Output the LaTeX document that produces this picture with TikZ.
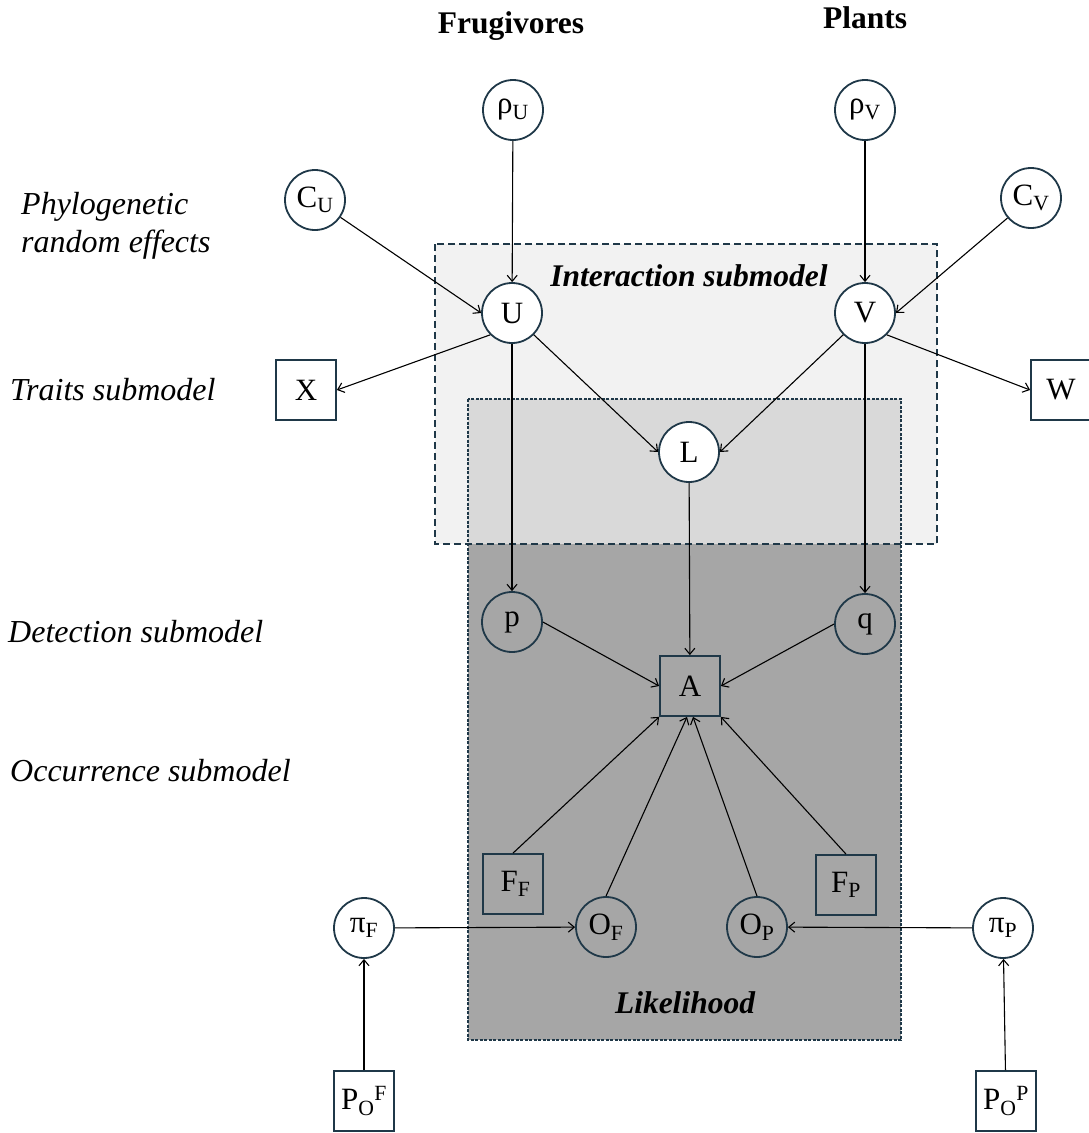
\documentclass[tikz,border=0pt]{standalone}
\usepackage{fontspec}
\setmainfont{Liberation Serif}
\usetikzlibrary{arrows.meta}
\definecolor{nodeblue}{RGB}{31,56,72}
\definecolor{interfill}{RGB}{242,242,242}
\definecolor{overfill}{RGB}{217,217,217}
\definecolor{likefill}{RGB}{166,166,166}
\begin{document}
\begin{tikzpicture}[x=1pt,y=-1pt,
    var/.style={circle,draw=nodeblue,line width=1.8pt,minimum size=60pt,inner sep=0pt,font=\fontsize{31}{34}\selectfont},
    obs/.style={rectangle,draw=nodeblue,line width=1.8pt,minimum size=60pt,inner sep=0pt,font=\fontsize{31}{34}\selectfont},
    lab/.style={inner sep=0pt,font=\fontsize{32}{38}\selectfont\itshape},
    head/.style={inner sep=0pt,font=\fontsize{31.5}{38}\selectfont\bfseries},
    boxlab/.style={inner sep=0pt,font=\fontsize{31.5}{38}\selectfont\bfseries\itshape},
    link/.style={line width=1.1pt,-{Straight Barb[length=6pt,width=10pt]}}]
      \useasboundingbox (0,0) rectangle (1088,1133);

      \fill[interfill] (435,244) rectangle (937,544);
      \fill[likefill] (468,399) rectangle (901,1040);
      \fill[overfill] (468,399) rectangle (901,544);
      \draw[nodeblue,line width=1.5pt,dash pattern=on 7pt off 4pt] (435,244) rectangle (937,544);
      \draw[nodeblue,line width=1.2pt,dash pattern=on 3pt off 1.5pt] (468,399) rectangle (901,1040);

      \node[head,anchor=base] (frug) at (511,33) {Frugivores};
      \node[head,anchor=base] (plants) at (865,28) {Plants};
      \node[lab,anchor=west,align=left] (phylo) at (21,226) {Phylogenetic\\random effects};
      \node[lab,anchor=base west] (traits) at (10,400) {Traits submodel};
      \node[lab,anchor=base west] (detect) at (8,642) {Detection submodel};
      \node[lab,anchor=base west] (occur) at (10,781) {Occurrence submodel};
      \node[boxlab,anchor=base] (inter) at (689,286) {Interaction submodel};
      \node[boxlab,anchor=base] (like) at (685,1013) {Likelihood};

      \node[var] (rhoU) at (513,110) {ρ\textsubscript{U}};
      \node[var] (rhoV) at (865,110) {ρ\textsubscript{V}};
      \node[var] (CU) at (315,200) {C\textsubscript{U}};
      \node[var] (CV) at (1031,198) {C\textsubscript{V}};
      \node[var,fill=white] (U) at (512,313) {U};
      \node[var,fill=white] (V) at (865,313) {V};
      \node[obs] (X) at (306,390) {X};
      \node[obs] (W) at (1061,390) {W};
      \node[var,fill=white] (L) at (689,452) {L};
      \node[var] (p) at (512,622) {p};
      \node[var] (q) at (865,624) {q};
      \node[obs] (A) at (690,686) {A};
      \node[obs] (FF) at (513,884) {\,F\textsubscript{F}};
      \node[obs] (FP) at (846,885) {F\textsubscript{P}};
      \node[var] (OF) at (606,927) {O\textsubscript{F}};
      \node[var] (OP) at (757,927) {O\textsubscript{P}};
      \node[var] (piF) at (364,928) {π\textsubscript{F}};
      \node[var] (piP) at (1003,928) {π\textsubscript{P}};
      \node[obs] (POF) at (364,1101) {P\textsubscript{O}\textsuperscript{F}};
      \node[obs] (POP) at (1006,1101) {P\textsubscript{O}\textsuperscript{P}};

      \draw[link] (rhoU) -- (U);
      \draw[link] (rhoV) -- (V);
      \draw[link] (CU) -- (U.west);
      \draw[link] (CV) -- (V.east);
      \draw[link] (U.south west) -- (X.east);
      \draw[link] (V.south east) -- (W.west);
      \draw[link] (U.south east) -- (L.west);
      \draw[link] (V.south west) -- (L.east);
      \draw[link] (U) -- (p);
      \draw[link] (V) -- (q);
      \draw[link] (L) -- (A);
      \draw[link] (p.east) -- (A.west);
      \draw[link] (q.west) -- (A.east);
      \draw[link] (FF.north) -- (A.south west);
      \draw[link] (FP.north) -- (A.south east);
      \draw[link] (OF.north) -- ([xshift=-3pt]A.south);
      \draw[link] (OP.north) -- ([xshift=3pt]A.south);
      \draw[link] (piF) -- (OF);
      \draw[link] (piP) -- (OP);
      \draw[link] (POF) -- (piF);
      \draw[link] (POP) -- (piP);
\end{tikzpicture}
\end{document}
